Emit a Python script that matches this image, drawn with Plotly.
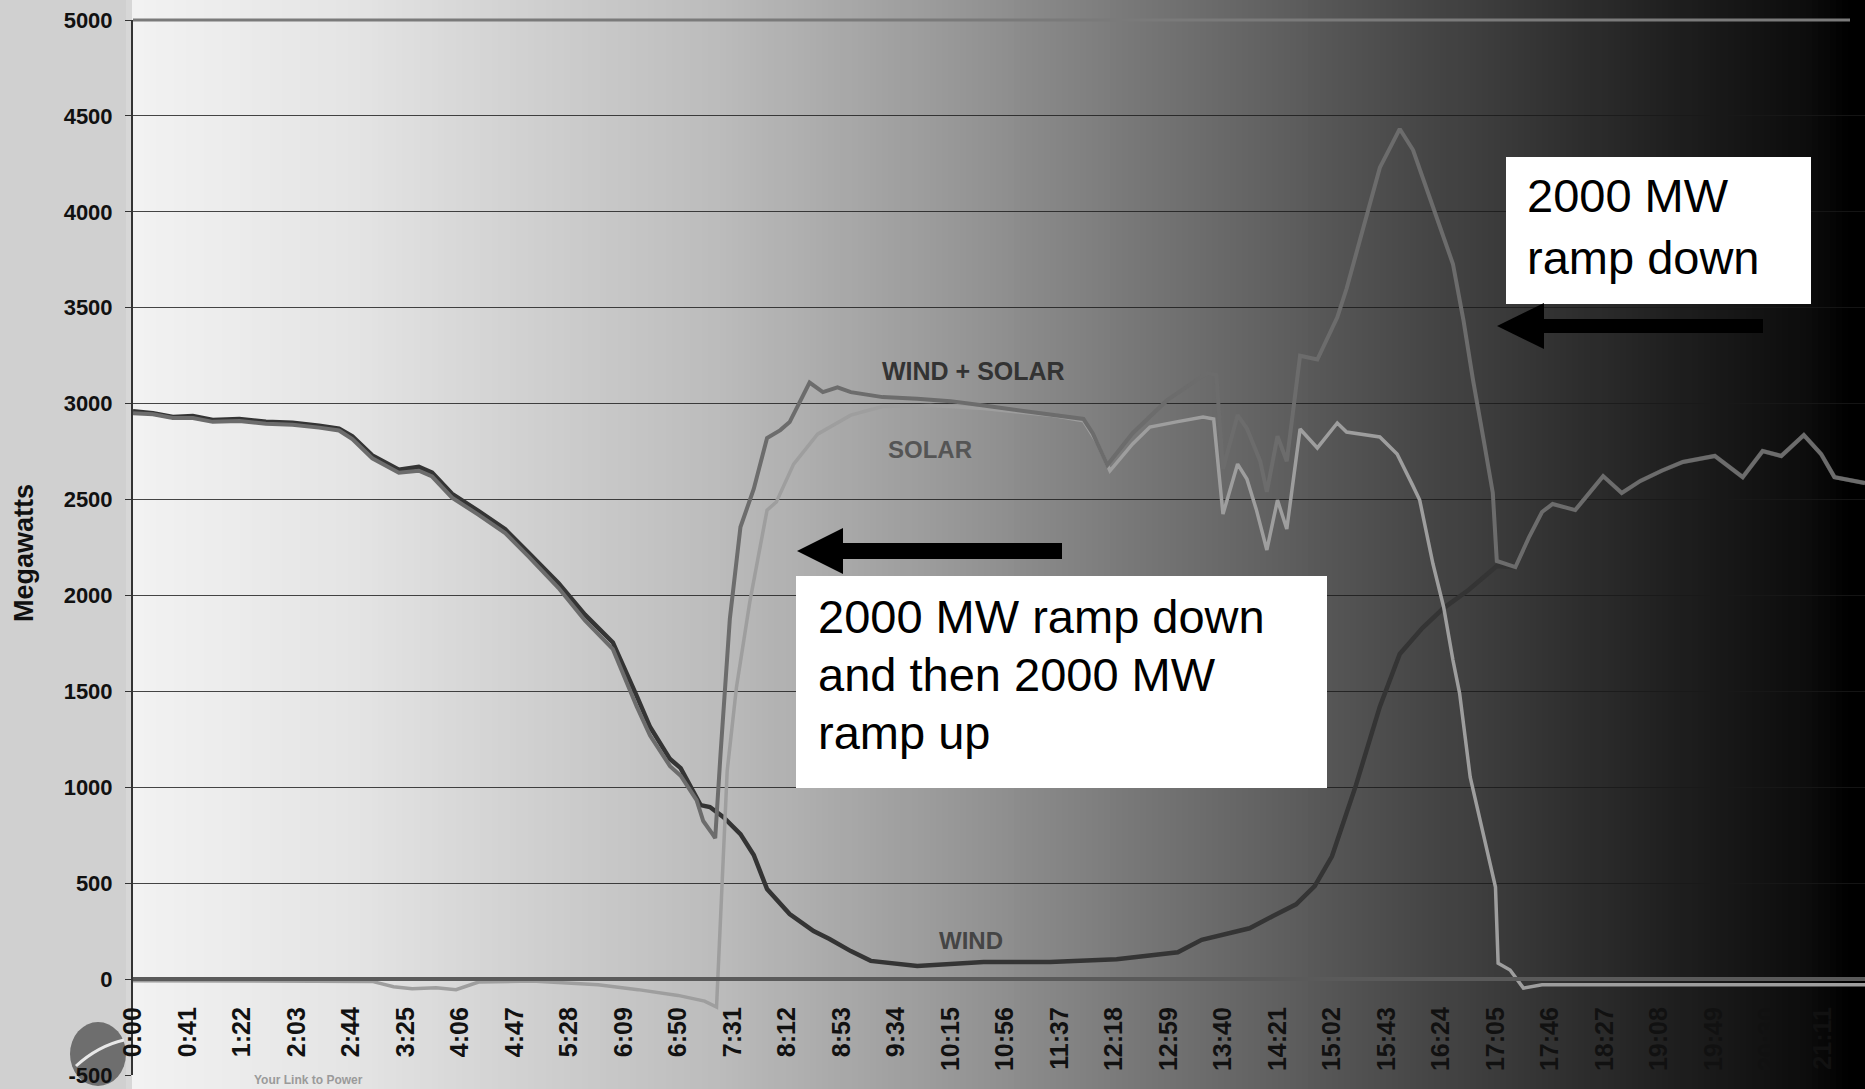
import plotly.graph_objects as go

# ---------------- data (minutes after midnight, megawatts) ----------------
tick_labels = ["0:00", "0:41", "1:22", "2:03", "2:44", "3:25", "4:06", "4:47", "5:28", "6:09",
               "6:50", "7:31", "8:12", "8:53", "9:34", "10:15", "10:56", "11:37", "12:18", "12:59",
               "13:40", "14:21", "15:02", "15:43", "16:24", "17:05", "17:46", "18:27", "19:08",
               "19:49", "20:30", "21:11"]
y_tick_values = [-500, 0, 500, 1000, 1500, 2000, 2500, 3000, 3500, 4000, 4500, 5000]

wind_t = [0, 15, 30, 45, 60, 80, 100, 120, 140, 155, 165, 180, 200, 215, 225, 240, 260, 280, 298, 320,
          340, 361, 379, 389, 404, 412, 427, 434, 444, 457, 467, 477, 494, 512, 524, 540, 555, 590, 640, 690,
          740, 765, 786, 804, 822, 840, 858, 875, 889, 902, 920, 938, 953, 970, 986, 1005, 1026, 1040, 1050, 1060,
          1068, 1085, 1106, 1120, 1134, 1150, 1166, 1190, 1211, 1226, 1240, 1257, 1270, 1280, 1303]
wind_mw = [2960, 2950, 2930, 2935, 2915, 2920, 2905, 2900, 2885, 2870, 2830, 2730, 2655, 2670, 2640, 2530, 2440, 2345, 2220, 2065,
           1900, 1755, 1475, 1314, 1147, 1100, 907, 897, 845, 756, 647, 469, 339, 250, 209, 146, 95, 68, 89, 89,
           104, 125, 140, 205, 235, 265, 330, 390, 485, 640, 1010, 1420, 1695, 1830, 1934, 2030, 2153, 2148, 2300, 2435,
           2477, 2445, 2622, 2534, 2597, 2650, 2696, 2727, 2617, 2753, 2727, 2836, 2737, 2617, 2586]

solar_t = [0, 60, 120, 180, 196, 210, 228, 243, 260, 300, 350, 380, 410, 430, 439, 442, 447, 454, 464, 477, 484, 497, 515,
           540, 564, 600, 640, 690, 715, 725, 735, 752, 765, 785, 805, 813, 820, 831, 838, 845, 853, 861, 868,
           878, 891, 906, 913, 938, 951, 963, 968, 978, 986, 993, 998, 1006, 1019, 1025, 1027, 1036, 1046, 1060, 1303]
solar_mw = [-8, -8, -10, -12, -40, -50, -45, -55, -15, -10, -30, -55, -85, -115, -146, 318, 1084, 1522, 1965, 2445, 2487, 2685, 2841,
            2940, 2985, 2990, 2975, 2940, 2910, 2800, 2650, 2790, 2878, 2905, 2930, 2920, 2424, 2685, 2607, 2450, 2237, 2497, 2346,
            2868, 2769, 2899, 2852, 2826, 2737, 2570, 2497, 2164, 1940, 1663, 1491, 1053, 673, 480, 83, 47, -47, -30, -30]

combo_t = [0, 15, 30, 45, 60, 80, 100, 120, 140, 155, 165, 180, 200, 215, 225, 240, 260, 280, 298, 320,
           340, 361, 379, 389, 404, 412, 424, 429, 436, 438, 442, 449, 457, 467, 477, 487, 494, 509, 519, 530,
           540, 564, 590, 615, 640, 665, 690, 715, 722, 733, 752, 778, 808, 815, 820, 831, 838, 848, 853, 861,
           868, 878, 891, 906, 913, 925, 938, 953, 963, 978, 993, 1001, 1008, 1016, 1023, 1026, 1040, 1050, 1060, 1068,
           1085, 1106, 1120, 1134, 1150, 1166, 1190, 1211, 1226, 1240, 1257, 1270, 1280, 1303]
combo_mw = [2950, 2945, 2925, 2925, 2905, 2910, 2895, 2890, 2875, 2860, 2815, 2715, 2640, 2650, 2620, 2510, 2420, 2325, 2200, 2040,
            1870, 1720, 1420, 1270, 1110, 1060, 933, 824, 756, 735, 1173, 1877, 2357, 2555, 2821, 2862, 2904, 3110, 3060, 3085,
            3060, 3034, 3025, 3013, 2990, 2967, 2945, 2920, 2846, 2680, 2846, 3018, 3159, 3150, 2660, 2940, 2870, 2700, 2540, 2830,
            2700, 3250, 3230, 3450, 3600, 3900, 4230, 4432, 4322, 4025, 3728, 3431, 3128, 2815, 2534, 2180, 2148, 2300, 2435, 2477,
            2445, 2622, 2534, 2597, 2650, 2696, 2727, 2617, 2753, 2727, 2836, 2737, 2617, 2586]

box1_lines = ["2000 MW ramp down", "and then 2000 MW", "ramp up"]
box2_lines = ["2000 MW", "ramp down"]

# ---------------- layout geometry (pixels) ----------------
W, H = 1865, 1089
L, R, T, B = 133, 0, 20, 14
PW, PH = W - L - R, H - T - B


def px(X):
    return (X - L) / PW


def py(Y):
    return (H - B - Y) / PH


tick_vals = [int(s.split(":")[0]) * 60 + int(s.split(":")[1]) for s in tick_labels]

FONT = "Liberation Sans, Arial, sans-serif"

fig = go.Figure()
fig.add_trace(go.Scatter(x=wind_t, y=wind_mw, mode="lines", name="WIND",
                         line=dict(color="#343434", width=4.5), showlegend=False))
fig.add_trace(go.Scatter(x=solar_t, y=solar_mw, mode="lines", name="SOLAR",
                         line=dict(color="#9e9e9e", width=3.5), showlegend=False))
fig.add_trace(go.Scatter(x=combo_t, y=combo_mw, mode="lines", name="WIND + SOLAR",
                         line=dict(color="#6c6c6c", width=4), showlegend=False))

# ---------------- background gradient ----------------
grad_px = [0, 128, 133, 357, 476, 714, 952, 1189, 1427, 1665, 1808, 1850, 1865]
grad_gray = [208, 208, 242, 228, 214, 188, 152, 110, 70, 32, 12, 0, 0]


def gray_at(X):
    for i in range(len(grad_px) - 1):
        if grad_px[i] <= X <= grad_px[i + 1]:
            a, b = grad_px[i], grad_px[i + 1]
            f = 0 if b == a else (X - a) / (b - a)
            return grad_gray[i] + f * (grad_gray[i + 1] - grad_gray[i])
    return grad_gray[-1]


shapes = []
step = 6
X = 0
while X < W:
    g = int(round(gray_at(X + step / 2)))
    shapes.append(dict(type="rect", xref="paper", yref="paper", layer="below",
                       x0=px(X), x1=px(min(X + step + 1, W + 5)), y0=py(H + 30), y1=py(-30),
                       fillcolor=f"rgb({g},{g},{g})", line=dict(width=0)))
    X += step

# top border of the plot
shapes.append(dict(type="line", xref="paper", yref="paper", layer="below",
                   x0=0, x1=px(1850), y0=1, y1=1, line=dict(color="#7a7a7a", width=3)))

# logo blob bottom-left
shapes.append(dict(type="circle", xref="paper", yref="paper", layer="below",
                   x0=px(70), x1=px(126), y0=py(1086), y1=py(1022),
                   fillcolor="#6e6e6e", line=dict(width=0)))
shapes.append(dict(type="path", xref="paper", yref="paper", layer="below",
                   path=f"M {px(76)},{py(1066)} Q {px(98)},{py(1046)} {px(124)},{py(1040)}",
                   line=dict(color="#e8e8e8", width=3)))

# white annotation boxes
shapes.append(dict(type="rect", xref="paper", yref="paper", layer="above",
                   x0=px(796), x1=px(1327), y0=py(788), y1=py(576),
                   fillcolor="white", line=dict(width=0)))
shapes.append(dict(type="rect", xref="paper", yref="paper", layer="above",
                   x0=px(1506), x1=px(1811), y0=py(304), y1=py(157),
                   fillcolor="white", line=dict(width=0)))


# arrows (shaft + head)
def arrow(tip_x, y, head_back, tail, head_half, shaft_half):
    shapes.append(dict(type="rect", xref="paper", yref="paper", layer="above",
                       x0=px(head_back - 2), x1=px(tail), y0=py(y + shaft_half), y1=py(y - shaft_half),
                       fillcolor="black", line=dict(width=0)))
    shapes.append(dict(type="path", xref="paper", yref="paper", layer="above",
                       path=f"M {px(tip_x)},{py(y)} L {px(head_back)},{py(y - head_half)} "
                            f"L {px(head_back)},{py(y + head_half)} Z",
                       fillcolor="black", line=dict(width=0)))


arrow(797, 551, 843, 1062, 23, 8)
arrow(1497, 326, 1544, 1763, 23, 7)

annotations = []
for text, yc in zip(box1_lines, [616, 674, 732]):
    annotations.append(dict(text=text, xref="paper", yref="paper", x=px(816), y=py(yc),
                            xanchor="left", yanchor="middle", showarrow=False,
                            font=dict(family=FONT, size=47, color="black")))
for text, yc in zip(box2_lines, [196, 257]):
    annotations.append(dict(text=text, xref="paper", yref="paper", x=px(1525), y=py(yc),
                            xanchor="left", yanchor="middle", showarrow=False,
                            font=dict(family=FONT, size=47, color="black")))

annotations += [
    dict(text="WIND + SOLAR", xref="paper", yref="paper", x=px(973), y=py(371), showarrow=False,
         xanchor="center", yanchor="middle", font=dict(family=FONT, size=25, color="#333333", weight="bold")),
    dict(text="SOLAR", xref="paper", yref="paper", x=px(930), y=py(449), showarrow=False,
         xanchor="center", yanchor="middle", font=dict(family=FONT, size=24, color="#555555", weight="bold")),
    dict(text="WIND", xref="paper", yref="paper", x=px(971), y=py(940), showarrow=False,
         xanchor="center", yanchor="middle", font=dict(family=FONT, size=24, color="#454545", weight="bold")),
    dict(text="Megawatts", xref="paper", yref="paper", x=px(24), y=py(553), showarrow=False,
         textangle=-90, xanchor="center", yanchor="middle",
         font=dict(family=FONT, size=27, color="#111111", weight="bold")),
    dict(text="Your Link to Power", xref="paper", yref="paper", x=px(252), y=py(1080), showarrow=False,
         xanchor="left", yanchor="middle", font=dict(family=FONT, size=12, color="#9a9a9a", weight="bold")),
]

fig.update_layout(
    width=W, height=H, autosize=False,
    margin=dict(l=L, r=R, t=T, b=B, pad=0, autoexpand=False),
    paper_bgcolor="#202020", plot_bgcolor="rgba(0,0,0,0)",
    shapes=shapes, annotations=annotations, showlegend=False,
    xaxis=dict(range=[0, 1303], tickmode="array", tickvals=tick_vals, ticktext=tick_labels,
               tickangle=-90, tickfont=dict(family=FONT, size=25, color="#111111", weight="bold"),
               showgrid=False, zeroline=False, showline=True, linecolor="#5a5a5a", linewidth=4,
               anchor="free", position=500 / 5500, ticks="", ticklabelstandoff=16, automargin=False),
    yaxis=dict(range=[-500, 5000], tickmode="array", tickvals=y_tick_values,
               ticktext=[str(v) for v in y_tick_values],
               tickfont=dict(family=FONT, size=22, color="#111111", weight="bold"),
               showgrid=True, gridcolor="rgba(25,25,25,0.8)", gridwidth=1, zeroline=False,
               showline=True, linecolor="#333333", linewidth=2, automargin=False,
               ticks="outside", ticklen=6, tickcolor="#333333", ticklabelstandoff=8),
)

fig.write_html("out.html")
